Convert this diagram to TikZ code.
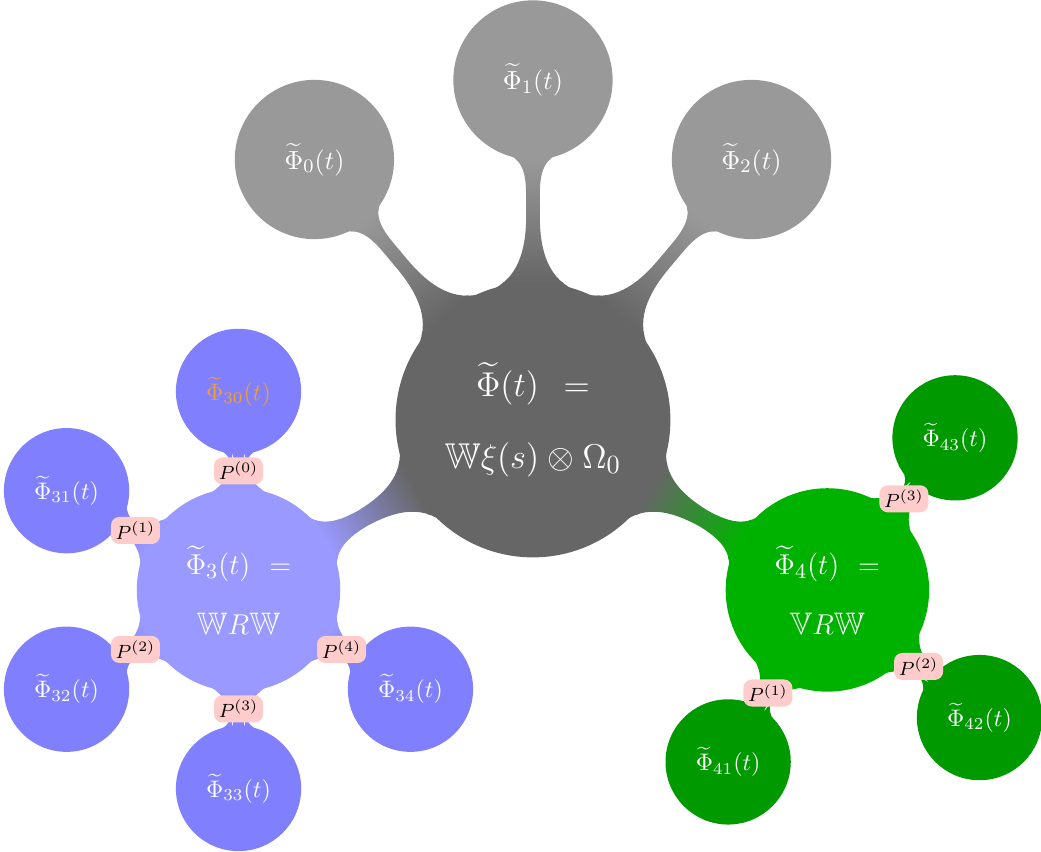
\documentclass[tikz,border=0pt]{standalone}
\usepackage{amsmath,amssymb}
\usetikzlibrary{mindmap,calc}
\definecolor{phiorange}{RGB}{240,160,48}
\begin{document}
\begin{tikzpicture}[
  rootc/.style={concept color=black!60, concept, minimum size=4cm, text width=2.9cm, align=center, font=\fontsize{15}{30}\selectfont},
  grayc/.style={concept color=black!40, concept, minimum size=2.3cm, text width=1.6cm, align=center, font=\fontsize{11}{13}\selectfont},
  midc/.style={concept, minimum size=2.95cm, text width=1.9cm, align=center, font=\fontsize{13}{25}\selectfont},
  bluec/.style={concept color=blue!40, midc},
  greenc/.style={concept color=green!70!black, midc},
  leafc/.style={concept, minimum size=1.8cm, text width=1.4cm, align=center, font=\fontsize{10}{12}\selectfont},
  blueleaf/.style={concept color=blue!50, leafc},
  greenleaf/.style={concept color=green!60!black, leafc},
  plabel/.style={shape=rectangle, minimum size=0pt, fill=red!20, rounded corners=3.5pt, inner xsep=2pt, inner ysep=2pt, text=black, font=\fontsize{8.5}{10}\selectfont},
]
\useasboundingbox (-7.838,-6.353) rectangle (7.471,6.176);

\begin{scope}[mindmap, text=white]
\node[rootc] (root) at (0,0) {$\widetilde{\Phi}(t)\mskip5mu=$\\$\mathbb{W}\xi(s)\otimes\Omega_0$};
\node[grayc] (c0) at (130:5) {$\widetilde{\Phi}_0(t)$};
\node[grayc] (c1) at (90:5) {$\widetilde{\Phi}_1(t)$};
\node[grayc] (c2) at (50:5) {$\widetilde{\Phi}_2(t)$};
\node[bluec] (c3) at (210:5) {$\widetilde{\Phi}_3(t)\;=$\\$\mathbb{W}R\mathbb{W}$};
\node[greenc] (c4) at (330:5) {$\widetilde{\Phi}_4(t)\;=$\\$\mathbb{V}R\mathbb{W}$};

\node[blueleaf, text=phiorange] (c30) at ([shift={(90:2.92)}]c3) {$\widetilde{\Phi}_{30}(t)$};
\node[blueleaf] (c31) at ([shift={(150:2.92)}]c3) {$\widetilde{\Phi}_{31}(t)$};
\node[blueleaf] (c32) at ([shift={(210:2.92)}]c3) {$\widetilde{\Phi}_{32}(t)$};
\node[blueleaf] (c33) at ([shift={(270:2.92)}]c3) {$\widetilde{\Phi}_{33}(t)$};
\node[blueleaf] (c34) at ([shift={(330:2.92)}]c3) {$\widetilde{\Phi}_{34}(t)$};

\node[greenleaf] (c43) at ([shift={(50:2.92)}]c4) {$\widetilde{\Phi}_{43}(t)$};
\node[greenleaf] (c42) at ([shift={(-40:2.92)}]c4) {$\widetilde{\Phi}_{42}(t)$};
\node[greenleaf] (c41) at ([shift={(-120:2.92)}]c4) {$\widetilde{\Phi}_{41}(t)$};

\path (root) to[circle connection bar switch color=from (black!60) to (black!40)] (c0);
\path (root) to[circle connection bar switch color=from (black!60) to (black!40)] (c1);
\path (root) to[circle connection bar switch color=from (black!60) to (black!40)] (c2);
\path (root) to[circle connection bar switch color=from (black!60) to (blue!40)] (c3);
\path (root) to[circle connection bar switch color=from (black!60) to (green!70!black)] (c4);
\foreach \k in {30,31,32,33,34}
  \path (c3) to[circle connection bar switch color=from (blue!40) to (blue!50)] (c\k);
\foreach \k in {41,42,43}
  \path (c4) to[circle connection bar switch color=from (green!70!black) to (green!60!black)] (c\k);
\end{scope}

\node[plabel] (p30) at ($(c3)!1.75cm!(c30)$) {$P^{(0)}$};
\node[plabel] (p31) at ($(c3)!1.75cm!(c31)$) {$P^{(1)}$};
\node[plabel] (p32) at ($(c3)!1.75cm!(c32)$) {$P^{(2)}$};
\node[plabel] (p33) at ($(c3)!1.75cm!(c33)$) {$P^{(3)}$};
\node[plabel] (p34) at ($(c3)!1.75cm!(c34)$) {$P^{(4)}$};
\node[plabel] (p43) at ($(c4)!1.75cm!(c43)$) {$P^{(3)}$};
\node[plabel] (p42) at ($(c4)!1.75cm!(c42)$) {$P^{(2)}$};
\node[plabel] (p41) at ($(c4)!1.75cm!(c41)$) {$P^{(1)}$};
\end{tikzpicture}
\end{document}
